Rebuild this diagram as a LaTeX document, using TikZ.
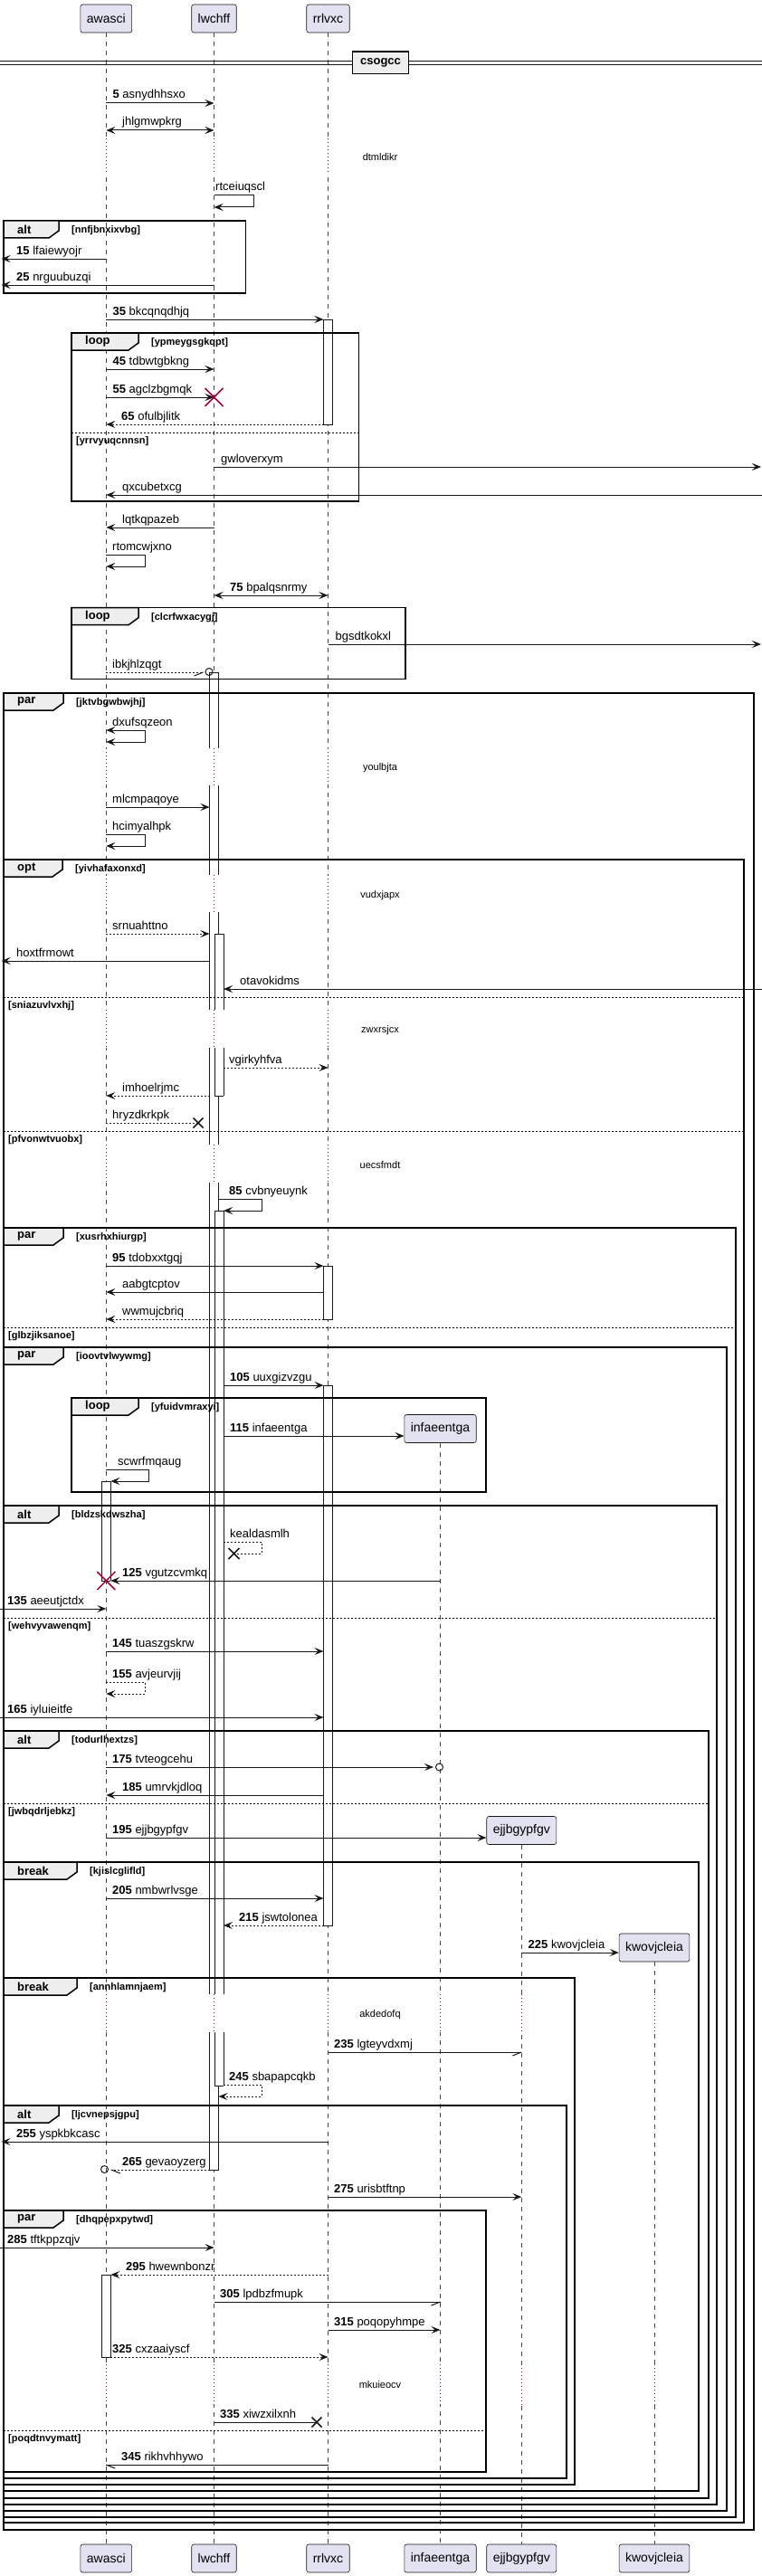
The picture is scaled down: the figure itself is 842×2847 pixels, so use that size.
\documentclass[tikz,border=0pt]{standalone}
\usepackage{fontspec}
\setmainfont{Liberation Sans}
\usetikzlibrary{arrows.meta}

\definecolor{partfill}{HTML}{E2E2F0}
\definecolor{ink}{HTML}{181818}
\definecolor{tabfill}{HTML}{EEEEEE}
\definecolor{killred}{HTML}{A80036}

% lifelines
\def\xawasci{117.3}
\def\xlwchff{236.5}
\def\xrrlvxc{362.5}
\def\xinfaeentga{486.5}
\def\xejjbgypfgv{576.3}
\def\xkwovjcleia{723}
% left edges of the activation bars
\def\actlwA{231.5}
\def\actlwB{237}
\def\actrr{357.5}
\def\actaw{112.3}

\tikzset{
  participant/.style={draw=ink, line width=0.6pt, fill=partfill, rounded corners=2.5pt,
    minimum height=31pt, inner xsep=7pt, inner ysep=0pt, font=\fontsize{14}{16}\selectfont},
  lifeline/.style={draw=ink!80, line width=0.5pt, dash pattern=on 5pt off 5pt},
  delayline/.style={draw=killred, line width=0.8pt, dash pattern=on 1pt off 3pt},
  actline/.style={draw=ink, line width=0.6pt},
  sync/.style={draw=ink, line width=1pt, -{Stealth[length=10pt,width=8pt,inset=4pt]}},
  twoway/.style={draw=ink, line width=1pt,
    {Stealth[length=10pt,width=8pt,inset=4pt]}-{Stealth[length=10pt,width=8pt,inset=4pt]}},
  reply/.style={sync, dash pattern=on 2pt off 2pt},
  bare/.style={draw=ink, line width=1pt},
  barereply/.style={bare, dash pattern=on 2pt off 2pt},
  msglabel/.style={anchor=base west, inner sep=0pt, yshift=5pt, font=\fontsize{13}{15}\selectfont},
  framebox/.style={draw=black, line width=1.5pt},
  frametab/.style={draw=black, line width=1.5pt, fill=tabfill},
  framekind/.style={anchor=west, inner sep=0pt, font=\bfseries\fontsize{13}{15}\selectfont},
  framecond/.style={anchor=west, inner sep=0pt, font=\bfseries\fontsize{11}{13}\selectfont},
  elseline/.style={draw=black, line width=1pt, dash pattern=on 2pt off 2pt},
  delaytext/.style={inner sep=0pt, font=\fontsize{11}{13}\selectfont},
  killmark/.style={draw=killred, line width=1.5pt},
  lostmark/.style={draw=ink, line width=1.5pt},
}

% message: name, style, x from, x to, y, label x, label
\newcommand\seqmsg[7]{%
  \coordinate (#1-from) at (#3,#5);
  \coordinate (#1-to) at (#4,#5);
  \draw[#2] (#1-from) -- (#1-to);
  \node[msglabel] (#1-label) at (#6,#5) {#7};
}
% self message: name, style, x from, x right, x back, y, label x, label
\newcommand\seqself[8]{%
  \coordinate (#1-from) at (#3,#6);
  \coordinate (#1-to) at (#5,{#6+13});
  \draw[#2] (#1-from) -- (#4,#6) -- (#4,{#6+13}) -- (#1-to);
  \node[msglabel] (#1-label) at (#7,#6) {#8};
}
% frame: name, x0, x1, y0, y1, kind, tab width, condition
\newcommand\seqframe[8]{%
  \draw[framebox] (#2,#4) rectangle (#3,#5);
  \draw[frametab] (#2,#4) -- ++(#7,0) -- ++(0,11) -- ++(-11,8) -- (#2,{#4+19}) -- cycle;
  \node[framekind] (#1-kind) at ({#2+15},{#4+9.5}) {#6};
  \node[framecond] (#1-cond) at ({#2+#7+14},{#4+10.5}) {[#8]};
}
\newcommand\seqelse[5]{%
  \draw[elseline] (#2,#4) -- (#3,#4);
  \node[framecond] (#1) at ({#2+5},{#4+9.5}) {[#5]};
}
\newcommand\actseg[3]{%
  \fill[white] (#1,#2) rectangle ({#1+10},#3);
  \draw[actline] (#1,#2) -- (#1,#3) ({#1+10},#2) -- ({#1+10},#3);
}
\newcommand\actcap[2]{\draw[actline] (#1,#2) -- ++(10,0);}
% cross: style, name, x, y, half size
\newcommand\seqcross[5]{%
  \coordinate (#2) at (#3,#4);
  \draw[#1] ([shift={(-#5,-#5)}]#2) -- ([shift={(#5,#5)}]#2)
            ([shift={(-#5,#5)}]#2) -- ([shift={(#5,-#5)}]#2);
}

\begin{document}
\begin{tikzpicture}[x=1pt,y=-1pt]
\useasboundingbox (0,0) rectangle (842,2847);

% participants, head and foot
\node[participant] (awasci) at (\xawasci,20.5) {awasci};
\node[participant] (lwchff) at (\xlwchff,20.5) {lwchff};
\node[participant] (rrlvxc) at (\xrrlvxc,20.5) {rrlvxc};
\node[participant] (infaeentga) at (\xinfaeentga,1579) {infaeentga};
\node[participant] (ejjbgypfgv) at (\xejjbgypfgv,2023) {ejjbgypfgv};
\node[participant] (kwovjcleia) at (\xkwovjcleia,2152.5) {kwovjcleia};
\foreach \who in {awasci,lwchff,rrlvxc,infaeentga,ejjbgypfgv,kwovjcleia}
  \node[participant] (\who-end) at (\csname x\who\endcsname,2827.5) {\who};

\foreach \who in {awasci,lwchff,rrlvxc,infaeentga,ejjbgypfgv,kwovjcleia}
  \draw[lifeline] (\who) -- (\who-end);

% delays
\foreach \ya/\yb in {153/193,827/868,967/1008,1116/1158,1265/1307}
  \foreach \xx in {\xawasci,\xlwchff,\xrrlvxc} {
    \draw[white, line width=2pt] (\xx,\ya) -- (\xx,\yb);
    \draw[delayline] (\xx,\ya) -- (\xx,\yb);
  }
\foreach \ya/\yb in {2204/2246,2613/2658}
  \foreach \xx in {\xawasci,\xlwchff,\xrrlvxc,\xinfaeentga,\xejjbgypfgv,\xkwovjcleia} {
    \draw[white, line width=2pt] (\xx,\ya) -- (\xx,\yb);
    \draw[delayline] (\xx,\ya) -- (\xx,\yb);
  }

% activations
\foreach \ya/\yb in {743/827,868/967,1008/1116,1158/1265,1307/2204,2246/2398}
  {\actseg{\actlwA}{\ya}{\yb}}
\actcap{\actlwA}{743} \actcap{\actlwA}{2398}
\foreach \ya/\yb in {1032/1116,1158/1211,1338/2204,2246/2305}
  {\actseg{\actlwB}{\ya}{\yb}}
\foreach \yy in {1032,1211,1338,2305} {\actcap{\actlwB}{\yy}}
\foreach \ya/\yb in {353/469,1399/1458,1531/2128}
  {\actseg{\actrr}{\ya}{\yb} \actcap{\actrr}{\ya} \actcap{\actrr}{\yb}}
\foreach \ya/\yb in {1637/1747,2514/2605}
  {\actseg{\actaw}{\ya}{\yb} \actcap{\actaw}{\ya} \actcap{\actaw}{\yb}}

% frames
\seqframe{alt1}{4}{271.5}{244}{324}{alt}{61}{nnfjbnxixvbg}
\seqframe{loop1}{79}{396.4}{368}{554}{loop}{74}{ypmeygsgkqpt}
\seqelse{else1}{79}{396.4}{478}{yrrvyuqcnnsn}
\seqframe{loop2}{79}{447.8}{671.7}{750.7}{loop}{74}{clcrfwxacygj}
\seqframe{par1}{4}{833}{766}{2796}{par}{66}{jktvbgwbwjhj}
\seqframe{opt1}{4}{822}{950}{2788}{opt}{65}{yivhafaxonxd}
\seqelse{else2}{4}{822}{1102}{sniazuvlvxhj}
\seqelse{else3}{4}{822}{1250}{pfvonwtvuobx}
\seqframe{par2}{4}{813}{1357}{2782}{par}{66}{xusrhxhiurgp}
\seqelse{else4}{4}{813}{1467}{glbzjiksanoe}
\seqframe{par3}{4}{803}{1489}{2775}{par}{66}{ioovtvlwywmg}
\seqframe{loop3}{79}{537}{1545}{1649}{loop}{74}{yfuidvmraxyi}
\seqframe{alt2}{4}{792}{1664}{2768}{alt}{61}{bldzskdwszha}
\seqelse{else5}{4}{792}{1788}{wehvyvawenqm}
\seqframe{alt3}{4}{783}{1913}{2761}{alt}{61}{todurlhextzs}
\seqelse{else6}{4}{783}{1993}{jwbqdrljebkz}
\seqframe{break1}{4}{772}{2058}{2753}{break}{81}{kjislcglifld}
\seqframe{break2}{4}{635}{2186}{2746}{break}{81}{annhlamnjaem}
\seqframe{alt4}{4}{626}{2327}{2739}{alt}{61}{ljcvnepsjgpu}
\seqframe{par4}{4}{537}{2443}{2732}{par}{66}{dhqpepxpytwd}
\seqelse{else7}{4}{537}{2686}{poqdtnvymatt}

% divider
\draw[ink, line width=1pt] (0,68) -- (842,68) (0,71.5) -- (842,71.5);
\node[draw=black, line width=1.5pt, fill=tabfill, minimum width=62pt, minimum height=24.5pt,
  font=\bfseries\fontsize{13}{15}\selectfont] (csogcc) at (420.5,69.5) {csogcc};

% delay texts
\node[delaytext] (delay1) at (420,174) {dtmldikr};
\node[delaytext] (delay2) at (420,849) {youlbjta};
\node[delaytext] (delay3) at (420,990) {vudxjapx};
\node[delaytext] (delay4) at (420,1139) {zwxrsjcx};
\node[delaytext] (delay5) at (420,1288) {uecsfmdt};
\node[delaytext] (delay6) at (420,2227) {akdedofq};
\node[delaytext] (delay7) at (420,2636) {mkuieocv};

% messages
\seqmsg{m5}{sync}{\xawasci}{\xlwchff}{114}{124.4}{\textbf{5} asnydhhsxo}
\seqmsg{mjhl}{twoway}{\xawasci}{\xlwchff}{144}{135}{jhlgmwpkrg}
\seqself{mrtc}{sync}{\xlwchff}{280}{\xlwchff}{216}{238}{rtceiuqscl}
\seqmsg{m15}{sync}{\xawasci}{1.5}{286}{18}{\textbf{15} lfaiewyojr}
\seqmsg{m25}{sync}{\xlwchff}{1.5}{315}{18}{\textbf{25} nrguubuzqi}
\seqmsg{m35}{sync}{\xawasci}{\actrr}{353}{124.4}{\textbf{35} bkcqnqdhjq}
\seqmsg{m45}{sync}{\xawasci}{\xlwchff}{408}{124.4}{\textbf{45} tdbwtgbkng}
\seqmsg{m55}{sync}{\xawasci}{\xlwchff}{439}{124.4}{\textbf{55} agclzbgmqk}
\seqcross{killmark}{kill55}{\xlwchff}{439}{10}
\seqmsg{m65}{reply}{\actrr}{\xawasci}{469}{134}{\textbf{65} ofulbjlitk}
\seqmsg{mgwl}{sync}{\xlwchff}{841}{516}{244}{gwloverxym}
\seqmsg{mqxc}{sync}{842}{\xawasci}{547}{135}{qxcubetxcg}
\seqmsg{mlqt}{sync}{\xlwchff}{\xawasci}{583}{135}{lqtkqpazeb}
\seqself{mrto}{sync}{\xawasci}{160}{\xawasci}{613}{124}{rtomcwjxno}
\seqmsg{m75}{twoway}{\xlwchff}{\xrrlvxc}{658}{254}{\textbf{75} bpalqsnrmy}
\seqmsg{mbgs}{sync}{\xrrlvxc}{841}{712}{370.5}{bgsdtkokxl}
\seqmsg{mibk}{barereply}{\xawasci}{224.5}{743}{124}{ibkjhlzqgt}
\draw[bare] (mibk-to) -- ++(-10,4);
\coordinate (mibk-o) at (231,742.5);
\draw[bare] (mibk-o) circle (4);
\seqself{mdxu}{twoway}{\xawasci}{160}{\xawasci}{807}{124}{dxufsqzeon}
\seqmsg{mmlc}{sync}{\xawasci}{\actlwA}{892}{124}{mlcmpaqoye}
\seqself{mhci}{sync}{\xawasci}{160}{\xawasci}{922}{124}{hcimyalhpk}
\seqmsg{msrn}{reply}{\xawasci}{\actlwA}{1032}{124}{srnuahttno}
\seqmsg{mhox}{sync}{\actlwA}{1.5}{1062}{18}{hoxtfrmowt}
\seqmsg{mota}{sync}{842}{247}{1093}{265}{otavokidms}
\seqmsg{mvgi}{reply}{247}{\xrrlvxc}{1180}{253}{vgirkyhfva}
\seqmsg{mimh}{reply}{\actlwA}{\xawasci}{1211}{135}{imhoelrjmc}
\seqmsg{mhry}{barereply}{\xawasci}{219}{1241}{124}{hryzdkrkpk}
\seqcross{lostmark}{lost-hry}{219}{1241}{5.5}
\seqself{m85}{sync}{241.5}{289}{247}{1325}{253}{\textbf{85} cvbnyeuynk}
\seqmsg{m95}{sync}{\xawasci}{\actrr}{1399}{124}{\textbf{95} tdobxxtgqj}
\seqmsg{maab}{sync}{\actrr}{\xawasci}{1428}{135}{aabgtcptov}
\seqmsg{mwwm}{reply}{\actrr}{\xawasci}{1458}{135}{wwmujcbriq}
\seqmsg{m105}{sync}{247}{\actrr}{1531}{254}{\textbf{105} uuxgizvzgu}
\coordinate (m115-from) at (247,1587);
\draw[sync] (m115-from) -- (m115-from -| infaeentga.west);
\node[msglabel] (m115-label) at (254,1587) {\textbf{115} infaeentga};
\seqself{mscw}{sync}{\xawasci}{164}{122.3}{1624}{130}{scwrfmqaug}
\seqself{mkea}{barereply}{247}{289}{258.5}{1704}{254}{kealdasmlh}
\seqcross{lostmark}{lost-kea}{258.5}{1717}{6}
\seqmsg{m125}{sync}{\xinfaeentga}{122.3}{1747}{135}{\textbf{125} vgutzcvmkq}
\seqcross{killmark}{kill125}{\xawasci}{1747}{10}
\seqmsg{m135}{sync}{0}{\xawasci}{1778}{8}{\textbf{135} aeeutjctdx}
\seqmsg{m145}{sync}{\xawasci}{\actrr}{1825}{124}{\textbf{145} tuaszgskrw}
\seqself{m155}{reply}{\xawasci}{160}{\xawasci}{1859}{124}{\textbf{155} avjeurvjij}
\seqmsg{m165}{sync}{0}{\actrr}{1898}{8}{\textbf{165} iyluieitfe}
\seqmsg{m175}{sync}{\xawasci}{479}{1953}{124}{\textbf{175} tvteogcehu}
\coordinate (m175-o) at (485.5,1953);
\draw[bare] (m175-o) circle (4);
\seqmsg{m185}{sync}{\actrr}{\xawasci}{1984}{135}{\textbf{185} umrvkjdloq}
\coordinate (m195-from) at (\xawasci,2031);
\draw[sync] (m195-from) -- (m195-from -| ejjbgypfgv.west);
\node[msglabel] (m195-label) at (124,2031) {\textbf{195} ejjbgypfgv};
\seqmsg{m205}{sync}{\xawasci}{\actrr}{2098}{124}{\textbf{205} nmbwrlvsge}
\seqmsg{m215}{reply}{\actrr}{247}{2128}{264}{\textbf{215} jswtolonea}
\coordinate (m225-from) at (\xejjbgypfgv,2158);
\draw[sync] (m225-from) -- (m225-from -| kwovjcleia.west);
\node[msglabel] (m225-label) at (583.5,2158) {\textbf{225} kwovjcleia};
\seqmsg{m235}{bare}{\xrrlvxc}{\xejjbgypfgv}{2268}{369}{\textbf{235} lgteyvdxmj}
\draw[bare] (m235-to) -- ++(-10,4);
\seqself{m245}{reply}{247}{289}{241.5}{2304}{253}{\textbf{245} sbapapcqkb}
\seqmsg{m255}{sync}{\xrrlvxc}{1.5}{2367}{18}{\textbf{255} yspkbkcasc}
\seqmsg{m265}{barereply}{\actlwA}{123}{2398}{135}{\textbf{265} gevaoyzerg}
\draw[bare] (m265-to) -- ++(10,4);
\coordinate (m265-o) at (115.5,2397.5);
\draw[bare] (m265-o) circle (4);
\seqmsg{m275}{sync}{\xrrlvxc}{\xejjbgypfgv}{2428}{369}{\textbf{275} urisbtftnp}
\seqmsg{m285}{sync}{0}{\xlwchff}{2484}{8}{\textbf{285} tftkppzqjv}
\seqmsg{m295}{reply}{\xrrlvxc}{122.3}{2514}{139}{\textbf{295} hwewnbonzr}
\seqmsg{m305}{bare}{\xlwchff}{\xinfaeentga}{2544}{243}{\textbf{305} lpdbzfmupk}
\draw[bare] (m305-to) -- ++(-10,4);
\seqmsg{m315}{sync}{\xrrlvxc}{\xinfaeentga}{2575}{369}{\textbf{315} poqopyhmpe}
\seqmsg{m325}{reply}{122.3}{\xrrlvxc}{2605}{124}{\textbf{325} cxzaaiyscf}
\seqmsg{m335}{bare}{\xlwchff}{350}{2677}{243}{\textbf{335} xiwzxilxnh}
\seqcross{lostmark}{lost-335}{350}{2677}{5.5}
\seqmsg{m345}{bare}{\xrrlvxc}{\xawasci}{2724}{134}{\textbf{345} rikhvhhywo}
\draw[bare] (m345-to) -- ++(10,4);
\end{tikzpicture}
\end{document}
